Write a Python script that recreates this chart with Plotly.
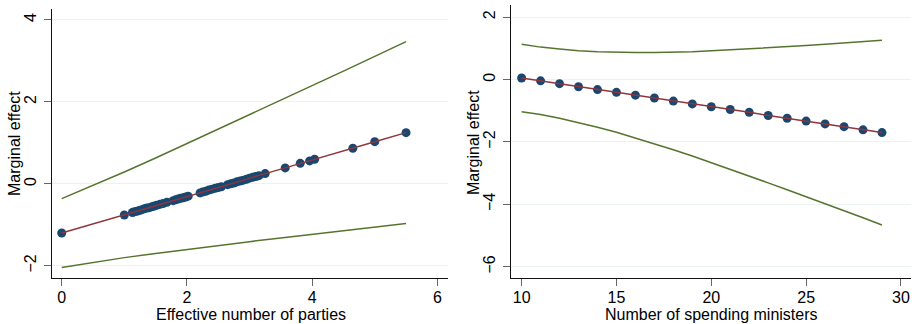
import plotly.graph_objects as go
from plotly.subplots import make_subplots

# ---- Left panel: effective number of parties ----
parties_x = [0, 1.0, 1.13, 1.16, 1.2, 1.24, 1.28, 1.32, 1.36, 1.4, 1.44, 1.48, 1.52, 1.57,
             1.62, 1.68, 1.78, 1.82, 1.86, 1.9, 1.94, 1.98, 2.02, 2.21, 2.25, 2.3, 2.35, 2.4,
             2.45, 2.5, 2.55, 2.65, 2.7, 2.75, 2.8, 2.85, 2.9, 2.95, 3.0, 3.05, 3.1, 3.15,
             3.25, 3.57, 3.81, 3.96, 4.04, 4.65, 5.0, 5.5]
parties_me = [-1.20, -0.76, -0.70, -0.68, -0.67, -0.65, -0.63, -0.61, -0.59, -0.58, -0.56,
              -0.54, -0.52, -0.50, -0.48, -0.45, -0.41, -0.39, -0.37, -0.35, -0.34, -0.32,
              -0.30, -0.22, -0.20, -0.18, -0.15, -0.13, -0.11, -0.09, -0.07, -0.02, 0.00,
              0.02, 0.05, 0.07, 0.09, 0.11, 0.14, 0.16, 0.18, 0.20, 0.25, 0.39, 0.50, 0.56,
              0.60, 0.87, 1.03, 1.25]
parties_ci_x = [0, 0.5, 1, 1.5, 2, 2.5, 3, 3.5, 4, 4.5, 5, 5.5]
parties_upper = [-0.36, -0.04, 0.29, 0.63, 0.98, 1.33, 1.68, 2.03, 2.39, 2.75, 3.11, 3.47]
parties_lower = [-2.04, -1.92, -1.80, -1.70, -1.60, -1.50, -1.41, -1.32, -1.23, -1.14, -1.06, -0.97]

# ---- Right panel: number of spending ministers ----
ministers_x = list(range(10, 30))
ministers_me = [0.05, -0.04, -0.13, -0.23, -0.32, -0.41, -0.50, -0.59, -0.69, -0.78,
                -0.87, -0.96, -1.05, -1.15, -1.24, -1.33, -1.42, -1.51, -1.61, -1.70]
ministers_upper = [1.13, 1.04, 0.98, 0.92, 0.89, 0.87, 0.87, 0.87, 0.87, 0.89,
                   0.92, 0.95, 0.98, 1.01, 1.05, 1.09, 1.13, 1.18, 1.21, 1.26]
ministers_lower = [-1.03, -1.12, -1.24, -1.38, -1.53, -1.69, -1.87, -2.05, -2.25, -2.45,
                   -2.66, -2.87, -3.08, -3.31, -3.53, -3.75, -3.97, -4.20, -4.43, -4.66]

left_xticks = [0, 2, 4, 6]
left_yticks = [-2, 0, 2, 4]
right_xticks = [10, 15, 20, 25, 30]
right_yticks = [-6, -4, -2, 0, 2]

left_xtitle = "Effective number of parties"
right_xtitle = "Number of spending ministers"
ytitle = "Marginal effect"

NAVY = "#1a476f"
MAROON = "#90353b"
GREEN = "#55752f"
GRID = "#eaf2f3"
AXIS = "#111111"
TICK = "#666666"
FONT = "Liberation Sans, Arial, sans-serif"
W, H = 916, 324

fig = make_subplots(rows=1, cols=2)

def add_panel(col, x_ci, up, lo, x_pts, me):
    fig.add_trace(go.Scatter(x=x_ci, y=up, mode="lines", line=dict(color=GREEN, width=1.5),
                             showlegend=False, hoverinfo="skip"), row=1, col=col)
    fig.add_trace(go.Scatter(x=x_ci, y=lo, mode="lines", line=dict(color=GREEN, width=1.5),
                             showlegend=False, hoverinfo="skip"), row=1, col=col)
    fig.add_trace(go.Scatter(x=x_pts, y=me, mode="markers",
                             marker=dict(color=NAVY, size=9, line=dict(width=0)),
                             showlegend=False), row=1, col=col)
    fig.add_trace(go.Scatter(x=x_pts, y=me, mode="lines", line=dict(color=MAROON, width=1.5),
                             showlegend=False, hoverinfo="skip"), row=1, col=col)

add_panel(1, parties_ci_x, parties_upper, parties_lower, parties_x, parties_me)
add_panel(2, ministers_x, ministers_upper, ministers_lower, ministers_x, ministers_me)

common_x = dict(showline=True, linecolor=AXIS, linewidth=1.3, ticks="outside", ticklen=7,
                tickcolor=TICK, tickwidth=1.3, showgrid=False, zeroline=False, automargin=False,
                ticklabelstandoff=-2,
                tickfont=dict(size=16, color="black", family=FONT))
common_y = dict(showline=True, linecolor=AXIS, linewidth=1.3, ticks="outside", ticklen=7,
                tickcolor=TICK, tickwidth=1.3, showgrid=True, gridcolor=GRID, gridwidth=1.3,
                zeroline=False, tickangle=-90, automargin=False, ticklabelstandoff=1,
                tickfont=dict(size=16, color="black", family=FONT))

fig.update_xaxes(**common_x)
fig.update_yaxes(**common_y)

def ann(text, px, py, angle=0):
    return dict(text=text, x=px / W, y=1 - py / H, xref="paper", yref="paper",
                xanchor="center", yanchor="middle", showarrow=False, textangle=angle,
                font=dict(size=16, color="black", family=FONT))

fig.update_layout(
    width=W, height=H,
    margin=dict(l=0, r=0, t=0, b=0, autoexpand=False),
    paper_bgcolor="white", plot_bgcolor="white",
    font=dict(family=FONT),
    xaxis=dict(domain=[52/W, 448/W], range=[-0.155, 6.17], tickvals=left_xticks),
    yaxis=dict(domain=[(H-277.7)/H, (H-9.3)/H], range=[-2.29, 4.26], tickvals=left_yticks),
    xaxis2=dict(domain=[511/W, 911/W], range=[9.44, 30.53], tickvals=right_xticks),
    yaxis2=dict(domain=[(H-277.7)/H, (H-5)/H], range=[-6.35, 2.39], tickvals=right_yticks),
    annotations=[
        ann(left_xtitle, 250.5, 314.5),
        ann(right_xtitle, 711.3, 314.5),
        ann(ytitle, 14.5, 143.5, -90),
        ann(ytitle, 473.5, 142.5, -90),
    ],
)

fig.write_html("out.html", config={"displayModeBar": False},
               post_script="document.body.style.margin='0';document.body.style.padding='0';")
